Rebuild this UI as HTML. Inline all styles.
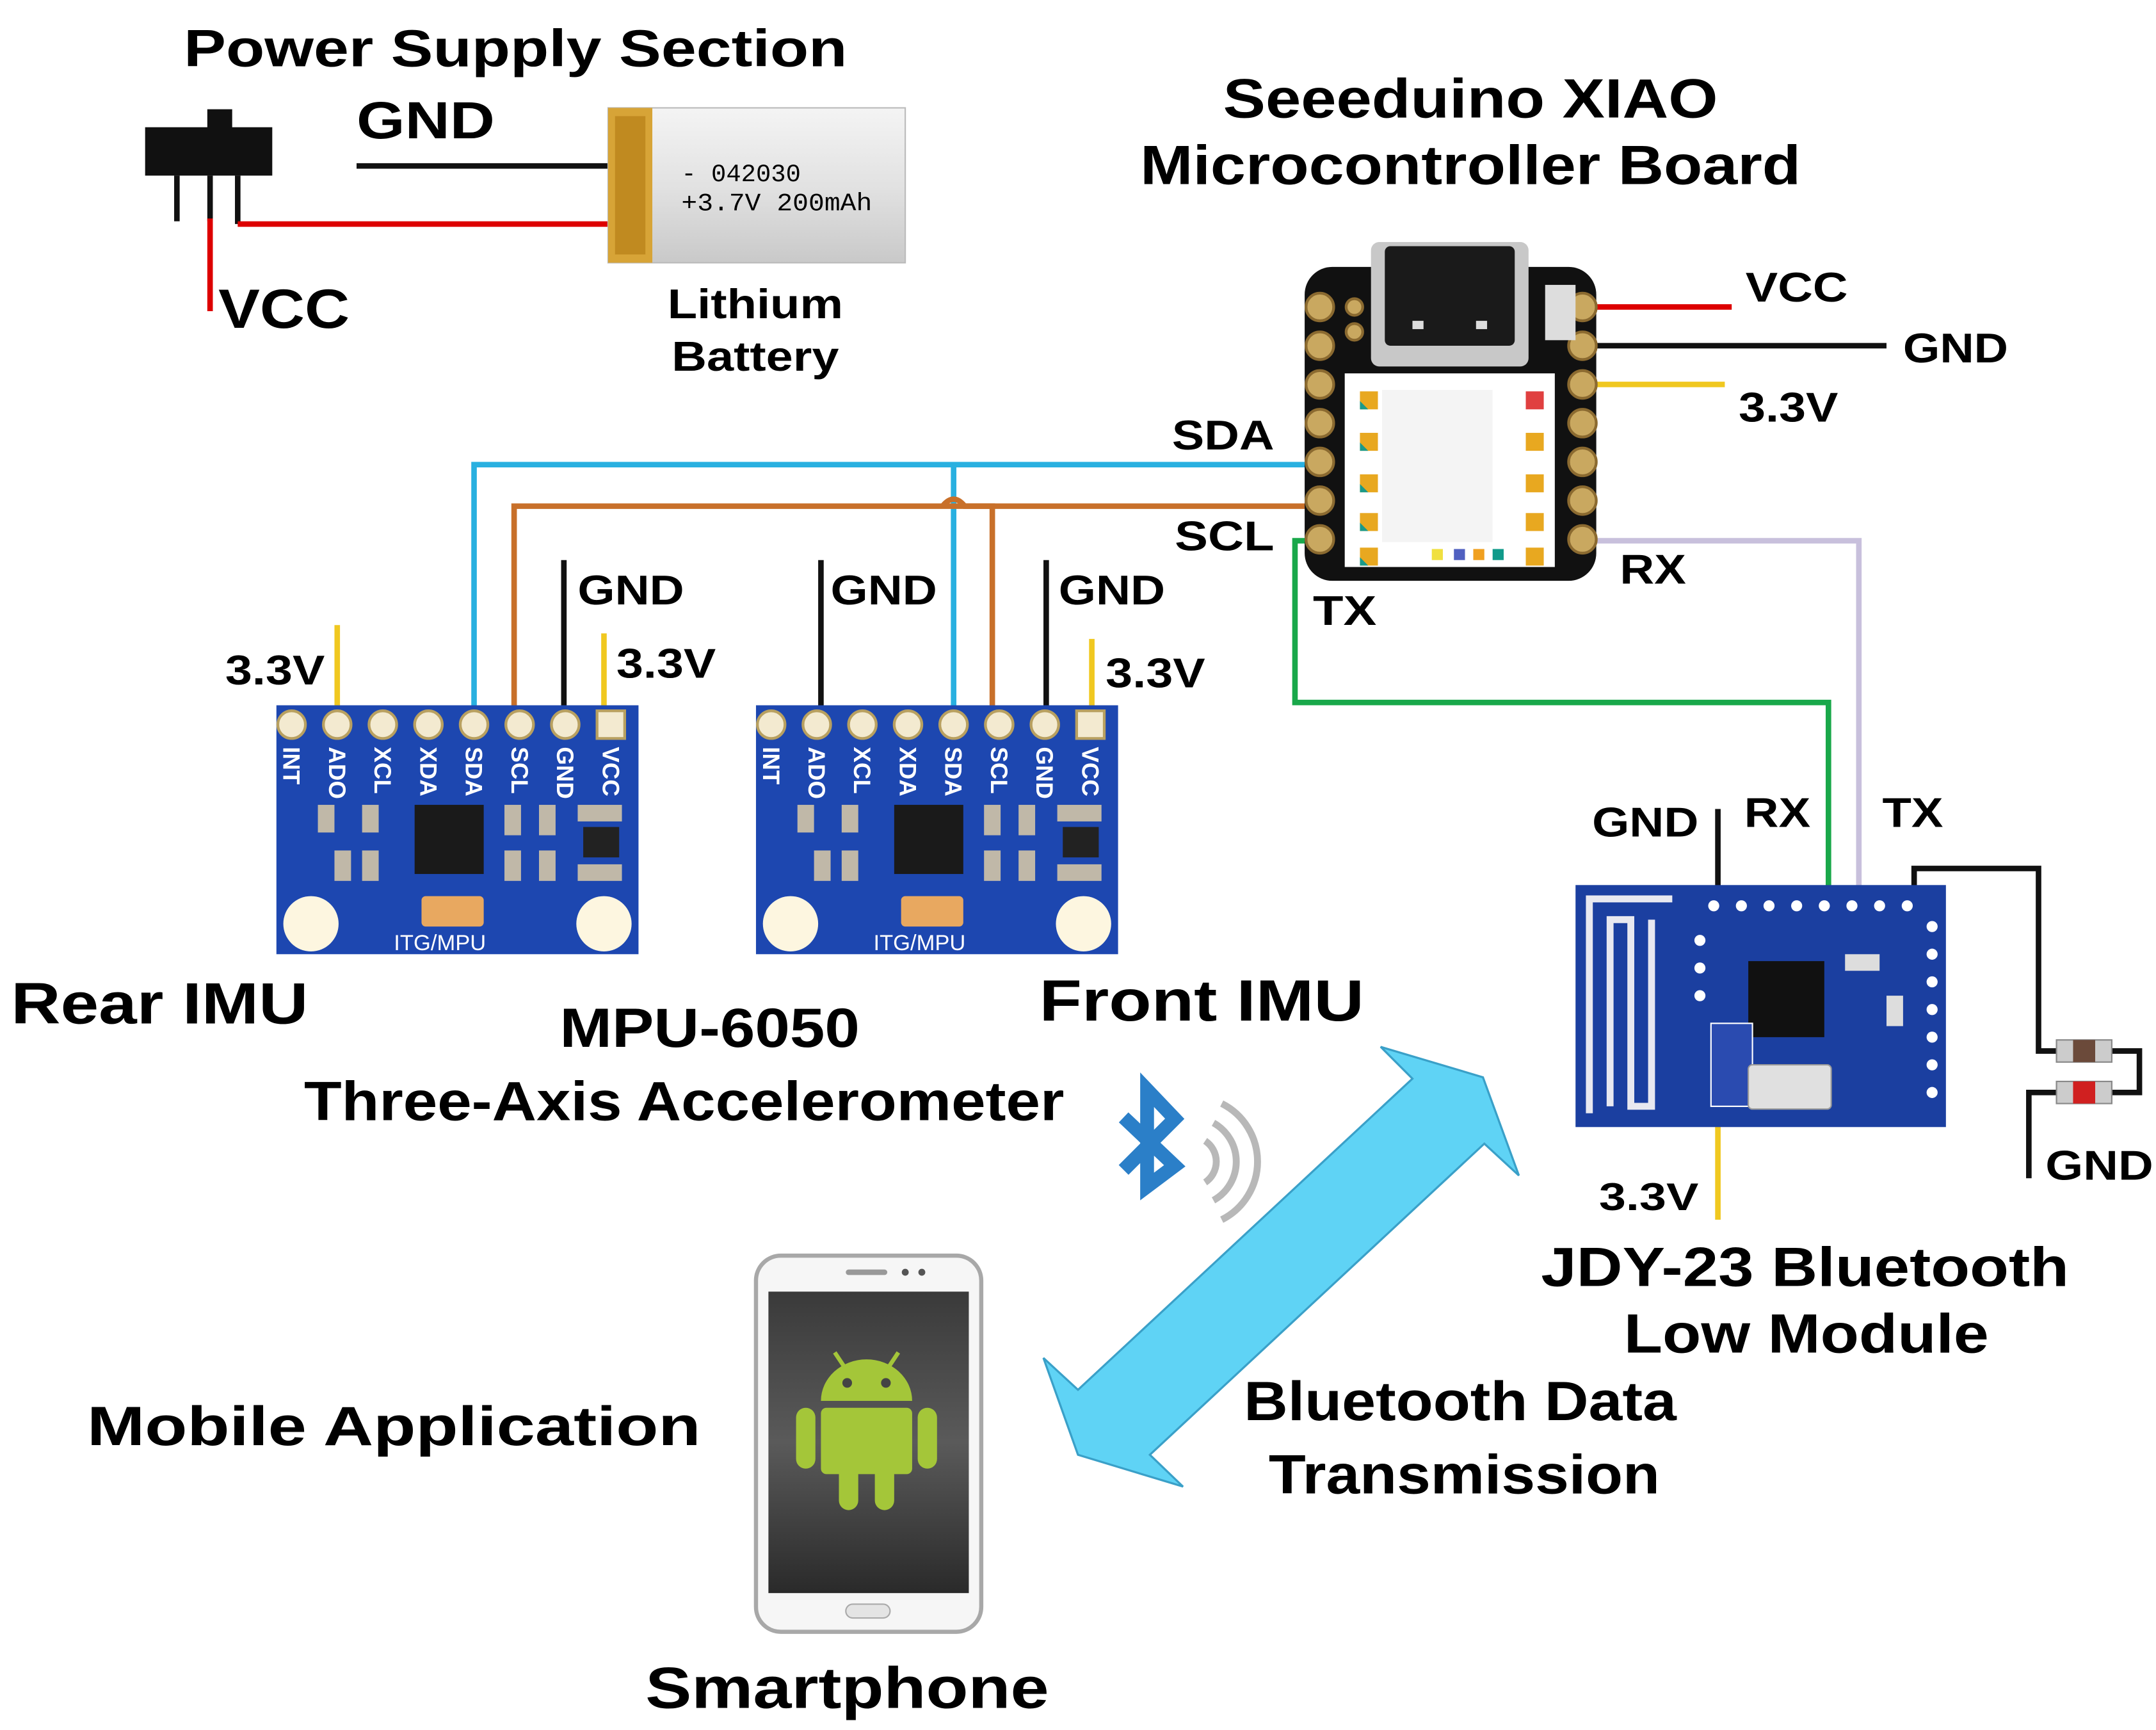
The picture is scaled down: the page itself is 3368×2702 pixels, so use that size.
<!DOCTYPE html>
<html><head><meta charset="utf-8"><style>html,body{margin:0;padding:0;background:#fff}svg{display:block}text{font-family:"Liberation Sans",Arial,sans-serif;font-weight:bold;fill:#000}</style></head><body>
<svg width="3368" height="2702" viewBox="0 0 1560 1251" preserveAspectRatio="none" xmlns="http://www.w3.org/2000/svg">
<defs>
<linearGradient id="bat" x1="0" y1="0" x2="0" y2="1"><stop offset="0" stop-color="#f4f4f4"/><stop offset="0.5" stop-color="#e2e2e2"/><stop offset="1" stop-color="#c9c9c9"/></linearGradient>
<linearGradient id="scr" x1="0" y1="0" x2="0" y2="1"><stop offset="0" stop-color="#3a3a3a"/><stop offset="0.5" stop-color="#5a5a5a"/><stop offset="1" stop-color="#2a2a2a"/></linearGradient>
</defs>
<rect width="1560" height="1251" fill="#fff"/>

<!-- Power supply -->
<text x="133" y="48" font-size="38" textLength="480" lengthAdjust="spacingAndGlyphs">Power Supply Section</text>
<text x="258" y="100" font-size="38" textLength="100" lengthAdjust="spacingAndGlyphs">GND</text>
<text x="158" y="237" font-size="40" textLength="95" lengthAdjust="spacingAndGlyphs">VCC</text>
<rect x="150" y="79" width="18" height="14" fill="#111"/>
<rect x="105" y="92" width="92" height="35" fill="#111"/>
<line x1="128" y1="127" x2="128" y2="160" stroke="#111" stroke-width="4"/>
<line x1="152" y1="127" x2="152" y2="160" stroke="#111" stroke-width="4"/>
<line x1="152" y1="158" x2="152" y2="225" stroke="#d00" stroke-width="4"/>
<line x1="172" y1="127" x2="172" y2="162" stroke="#111" stroke-width="4"/>
<line x1="172" y1="162" x2="470" y2="162" stroke="#d00" stroke-width="4"/>
<line x1="258" y1="120" x2="470" y2="120" stroke="#111" stroke-width="4"/>
<rect x="440" y="78" width="215" height="112" fill="url(#bat)" stroke="#bbb"/>
<rect x="440" y="78" width="32" height="112" fill="#d7a437"/>
<rect x="445" y="84" width="22" height="100" fill="#c08a20"/>
<text x="493" y="131" font-size="18" style="font-family:'Liberation Mono',monospace;font-weight:normal" fill="#222">- 042030</text>
<text x="493" y="152" font-size="18" style="font-family:'Liberation Mono',monospace;font-weight:normal" fill="#222" textLength="138" lengthAdjust="spacingAndGlyphs">+3.7V 200mAh</text>
<text x="483" y="230" font-size="30" textLength="127" lengthAdjust="spacingAndGlyphs">Lithium</text>
<text x="486" y="268" font-size="30" textLength="121" lengthAdjust="spacingAndGlyphs">Battery</text>

<!-- XIAO title -->
<text x="885" y="85" font-size="40" textLength="358" lengthAdjust="spacingAndGlyphs">Seeeduino XIAO</text>
<text x="825" y="133" font-size="40" textLength="478" lengthAdjust="spacingAndGlyphs">Microcontroller Board</text>

<!-- wires -->
<polyline points="960,336 343,336 343,515" fill="none" stroke="#29b0e0" stroke-width="4"/>
<line x1="690" y1="336" x2="690" y2="515" stroke="#29b0e0" stroke-width="4"/>
<polyline points="960,366 372,366 372,515" fill="none" stroke="#c8702a" stroke-width="4"/>
<path d="M682,366 Q690,356 698,366 L718,366 L718,515" fill="none" stroke="#c8702a" stroke-width="4"/>
<polyline points="960,391 937,391 937,508 1323,508 1323,650" fill="none" stroke="#19a84a" stroke-width="4"/>
<polyline points="1150,391 1345,391 1345,642" fill="none" stroke="#c8c0dc" stroke-width="4"/>
<line x1="1145" y1="222" x2="1253" y2="222" stroke="#d00" stroke-width="4"/>
<line x1="1145" y1="250" x2="1365" y2="250" stroke="#111" stroke-width="4"/>
<line x1="1145" y1="278" x2="1248" y2="278" stroke="#f0c820" stroke-width="4"/>

<!-- XIAO board -->
<rect x="944" y="193" width="211" height="227" rx="20" fill="#111"/>
<rect x="992" y="175" width="114" height="90" rx="6" fill="#c8c8c8"/>
<rect x="1002" y="178" width="94" height="72" rx="4" fill="#1a1a1a"/>
<rect x="1022" y="232" width="8" height="6" fill="#ddd"/><rect x="1068" y="232" width="8" height="6" fill="#ddd"/>
<g fill="#c9a860" stroke="#8b6a30" stroke-width="2">
<circle cx="955" cy="222" r="10"/><circle cx="955" cy="250" r="10"/><circle cx="955" cy="278" r="10"/><circle cx="955" cy="306" r="10"/><circle cx="955" cy="334" r="10"/><circle cx="955" cy="362" r="10"/><circle cx="955" cy="390" r="10"/>
<circle cx="1145" cy="222" r="10"/><circle cx="1145" cy="250" r="10"/><circle cx="1145" cy="278" r="10"/><circle cx="1145" cy="306" r="10"/><circle cx="1145" cy="334" r="10"/><circle cx="1145" cy="362" r="10"/><circle cx="1145" cy="390" r="10"/>
<circle cx="980" cy="222" r="6"/><circle cx="980" cy="240" r="6"/>
</g>
<rect x="1118" y="206" width="22" height="40" fill="#ddd"/>
<rect x="973" y="270" width="152" height="140" fill="#fff"/>
<rect x="1000" y="282" width="80" height="110" fill="#f4f4f4"/>
<g>
<rect x="984" y="283" width="13" height="13" fill="#e8a820"/><rect x="984" y="313" width="13" height="13" fill="#e8a820"/><rect x="984" y="343" width="13" height="13" fill="#e8a820"/><rect x="984" y="371" width="13" height="13" fill="#e8a820"/><rect x="984" y="396" width="13" height="13" fill="#e8a820"/>
<polygon points="984,290 990,296 984,296" fill="#1a9a8a"/><polygon points="984,320 990,326 984,326" fill="#1a9a8a"/><polygon points="984,350 990,356 984,356" fill="#1a9a8a"/><polygon points="984,378 990,384 984,384" fill="#1a9a8a"/><polygon points="984,403 990,409 984,409" fill="#1a9a8a"/>
<rect x="1104" y="283" width="13" height="13" fill="#e04040"/>
<rect x="1104" y="313" width="13" height="13" fill="#e8a820"/><rect x="1104" y="343" width="13" height="13" fill="#e8a820"/><rect x="1104" y="371" width="13" height="13" fill="#e8a820"/><rect x="1104" y="396" width="13" height="13" fill="#e8a820"/>
<rect x="1036" y="397" width="8" height="8" fill="#f0e040"/><rect x="1052" y="397" width="8" height="8" fill="#5060c0"/><rect x="1066" y="397" width="8" height="8" fill="#f0a020"/><rect x="1080" y="397" width="8" height="8" fill="#109a8a"/>
</g>
<text x="1263" y="218" font-size="30" textLength="74" lengthAdjust="spacingAndGlyphs">VCC</text>
<text x="1377" y="262" font-size="30" textLength="76" lengthAdjust="spacingAndGlyphs">GND</text>
<text x="1258" y="305" font-size="30" textLength="72" lengthAdjust="spacingAndGlyphs">3.3V</text>
<text x="848" y="325" font-size="30" textLength="74" lengthAdjust="spacingAndGlyphs">SDA</text>
<text x="850" y="398" font-size="30" textLength="72" lengthAdjust="spacingAndGlyphs">SCL</text>
<text x="950" y="452" font-size="30" textLength="46" lengthAdjust="spacingAndGlyphs">TX</text>
<text x="1172" y="422" font-size="30" textLength="48" lengthAdjust="spacingAndGlyphs">RX</text>

<!-- IMU wires -->
<line x1="408" y1="405" x2="408" y2="515" stroke="#111" stroke-width="4"/>
<line x1="244" y1="452" x2="244" y2="515" stroke="#f0c820" stroke-width="4"/>
<line x1="437" y1="458" x2="437" y2="515" stroke="#f0c820" stroke-width="4"/>
<line x1="594" y1="405" x2="594" y2="515" stroke="#111" stroke-width="4"/>
<line x1="757" y1="405" x2="757" y2="515" stroke="#111" stroke-width="4"/>
<line x1="790" y1="462" x2="790" y2="515" stroke="#f0c820" stroke-width="4"/>
<text x="418" y="437" font-size="30" textLength="77" lengthAdjust="spacingAndGlyphs">GND</text>
<text x="163" y="495" font-size="30" textLength="72" lengthAdjust="spacingAndGlyphs">3.3V</text>
<text x="446" y="490" font-size="30" textLength="72" lengthAdjust="spacingAndGlyphs">3.3V</text>
<text x="601" y="437" font-size="30" textLength="77" lengthAdjust="spacingAndGlyphs">GND</text>
<text x="766" y="437" font-size="30" textLength="77" lengthAdjust="spacingAndGlyphs">GND</text>
<text x="800" y="497" font-size="30" textLength="72" lengthAdjust="spacingAndGlyphs">3.3V</text>

<!-- IMU boards -->
<g transform="translate(200,510)">
<rect width="262" height="180" fill="#1d47b0"/>
<g fill="#f3ead0" stroke="#b8a060" stroke-width="2"><circle cx="11" cy="14" r="10"/><circle cx="44" cy="14" r="10"/><circle cx="77" cy="14" r="10"/><circle cx="110" cy="14" r="10"/><circle cx="143" cy="14" r="10"/><circle cx="176" cy="14" r="10"/><circle cx="209" cy="14" r="10"/><rect x="232" y="4" width="20" height="20"/></g>
<g font-size="17">
<text transform="translate(5,30) rotate(90)" style="fill:#fff">INT</text><text transform="translate(38,30) rotate(90)" style="fill:#fff">ADO</text><text transform="translate(71,30) rotate(90)" style="fill:#fff">XCL</text><text transform="translate(104,30) rotate(90)" style="fill:#fff">XDA</text><text transform="translate(137,30) rotate(90)" style="fill:#fff">SDA</text><text transform="translate(170,30) rotate(90)" style="fill:#fff">SCL</text><text transform="translate(203,30) rotate(90)" style="fill:#fff">GND</text><text transform="translate(236,30) rotate(90)" style="fill:#fff">VCC</text>
</g>
<rect x="100" y="72" width="50" height="50" fill="#1a1a1a"/>
<g fill="#c0b8a8"><rect x="30" y="72" width="12" height="20"/><rect x="62" y="72" width="12" height="20"/><rect x="62" y="105" width="12" height="22"/><rect x="42" y="105" width="12" height="22"/><rect x="165" y="72" width="12" height="22"/><rect x="190" y="72" width="12" height="22"/><rect x="165" y="105" width="12" height="22"/><rect x="190" y="105" width="12" height="22"/><rect x="218" y="72" width="32" height="12"/><rect x="218" y="115" width="32" height="12"/></g>
<rect x="222" y="88" width="26" height="22" fill="#222"/>
<rect x="105" y="138" width="45" height="22" rx="3" fill="#e8a860"/>
<circle cx="25" cy="158" r="20" fill="#fdf6e0"/><circle cx="237" cy="158" r="20" fill="#fdf6e0"/>
<text x="85" y="177" font-size="16" style="fill:#fff;font-weight:normal">ITG/MPU</text>
</g>
<g transform="translate(547,510)">
<rect width="262" height="180" fill="#1d47b0"/>
<g fill="#f3ead0" stroke="#b8a060" stroke-width="2"><circle cx="11" cy="14" r="10"/><circle cx="44" cy="14" r="10"/><circle cx="77" cy="14" r="10"/><circle cx="110" cy="14" r="10"/><circle cx="143" cy="14" r="10"/><circle cx="176" cy="14" r="10"/><circle cx="209" cy="14" r="10"/><rect x="232" y="4" width="20" height="20"/></g>
<g font-size="17">
<text transform="translate(5,30) rotate(90)" style="fill:#fff">INT</text><text transform="translate(38,30) rotate(90)" style="fill:#fff">ADO</text><text transform="translate(71,30) rotate(90)" style="fill:#fff">XCL</text><text transform="translate(104,30) rotate(90)" style="fill:#fff">XDA</text><text transform="translate(137,30) rotate(90)" style="fill:#fff">SDA</text><text transform="translate(170,30) rotate(90)" style="fill:#fff">SCL</text><text transform="translate(203,30) rotate(90)" style="fill:#fff">GND</text><text transform="translate(236,30) rotate(90)" style="fill:#fff">VCC</text>
</g>
<rect x="100" y="72" width="50" height="50" fill="#1a1a1a"/>
<g fill="#c0b8a8"><rect x="30" y="72" width="12" height="20"/><rect x="62" y="72" width="12" height="20"/><rect x="62" y="105" width="12" height="22"/><rect x="42" y="105" width="12" height="22"/><rect x="165" y="72" width="12" height="22"/><rect x="190" y="72" width="12" height="22"/><rect x="165" y="105" width="12" height="22"/><rect x="190" y="105" width="12" height="22"/><rect x="218" y="72" width="32" height="12"/><rect x="218" y="115" width="32" height="12"/></g>
<rect x="222" y="88" width="26" height="22" fill="#222"/>
<rect x="105" y="138" width="45" height="22" rx="3" fill="#e8a860"/>
<circle cx="25" cy="158" r="20" fill="#fdf6e0"/><circle cx="237" cy="158" r="20" fill="#fdf6e0"/>
<text x="85" y="177" font-size="16" style="fill:#fff;font-weight:normal">ITG/MPU</text>
</g>

<text x="8" y="740" font-size="42" textLength="215" lengthAdjust="spacingAndGlyphs">Rear IMU</text>
<text x="405" y="757" font-size="40" textLength="217" lengthAdjust="spacingAndGlyphs">MPU-6050</text>
<text x="220" y="810" font-size="40" textLength="550" lengthAdjust="spacingAndGlyphs">Three-Axis Accelerometer</text>
<text x="752" y="738" font-size="42" textLength="235" lengthAdjust="spacingAndGlyphs">Front IMU</text>

<!-- JDY-23 -->
<line x1="1243" y1="585" x2="1243" y2="650" stroke="#111" stroke-width="4"/>
<line x1="1243" y1="810" x2="1243" y2="882" stroke="#f0c820" stroke-width="4"/>
<polyline points="1385,645 1385,628 1475,628 1475,760 1488,760" fill="none" stroke="#111" stroke-width="4"/>
<polyline points="1528,760 1548,760 1548,790 1528,790" fill="none" stroke="#111" stroke-width="4"/>
<polyline points="1488,790 1468,790 1468,852" fill="none" stroke="#111" stroke-width="4"/>
<rect x="1488" y="752" width="40" height="16" fill="#ccc" stroke="#888"/><rect x="1500" y="752" width="16" height="16" fill="#6b4a3a"/>
<rect x="1488" y="782" width="40" height="16" fill="#ccc" stroke="#888"/><rect x="1500" y="782" width="16" height="16" fill="#d02020"/>
<rect x="1140" y="640" width="268" height="175" fill="#1b3fa0"/>
<g fill="none" stroke="#e8e8f0" stroke-width="5"><polyline points="1150,805 1150,650 1210,650"/><polyline points="1165,800 1165,665 1180,665 1180,800 1195,800 1195,665"/></g>
<g fill="#fff"><circle cx="1240" cy="655" r="4"/><circle cx="1260" cy="655" r="4"/><circle cx="1280" cy="655" r="4"/><circle cx="1300" cy="655" r="4"/><circle cx="1320" cy="655" r="4"/><circle cx="1340" cy="655" r="4"/><circle cx="1360" cy="655" r="4"/><circle cx="1380" cy="655" r="4"/><circle cx="1398" cy="670" r="4"/><circle cx="1398" cy="690" r="4"/><circle cx="1398" cy="710" r="4"/><circle cx="1398" cy="730" r="4"/><circle cx="1398" cy="750" r="4"/><circle cx="1398" cy="770" r="4"/><circle cx="1398" cy="790" r="4"/><circle cx="1230" cy="680" r="4"/><circle cx="1230" cy="700" r="4"/><circle cx="1230" cy="720" r="4"/></g>
<rect x="1265" y="695" width="55" height="55" fill="#111"/>
<rect x="1335" y="690" width="25" height="12" fill="#ddd"/><rect x="1365" y="720" width="12" height="22" fill="#ddd"/><rect x="1238" y="740" width="30" height="60" fill="#2a4bb0" stroke="#fff"/>
<rect x="1265" y="770" width="60" height="32" rx="3" fill="#e0e0e0" stroke="#999"/>
<text x="1152" y="605" font-size="30" textLength="77" lengthAdjust="spacingAndGlyphs">GND</text>
<text x="1262" y="598" font-size="30" textLength="48" lengthAdjust="spacingAndGlyphs">RX</text>
<text x="1362" y="598" font-size="30" textLength="44" lengthAdjust="spacingAndGlyphs">TX</text>
<text x="1480" y="853" font-size="30" textLength="78" lengthAdjust="spacingAndGlyphs">GND</text>
<text x="1157" y="875" font-size="28" textLength="72" lengthAdjust="spacingAndGlyphs">3.3V</text>
<text x="1115" y="930" font-size="40" textLength="382" lengthAdjust="spacingAndGlyphs">JDY-23 Bluetooth</text>
<text x="1175" y="978" font-size="40" textLength="264" lengthAdjust="spacingAndGlyphs">Low Module</text>

<!-- Bluetooth & arrow -->
<polygon points="999,757 1073,779 1099,850 1074,827 832,1052 856,1075 780,1052 755,982 780,1005 1022,780" fill="#5fd3f5" stroke="#3aa0c8" stroke-width="1.5"/>
<polyline points="813,808 850,843 830,858 830,788 850,809 813,846" fill="none" stroke="#2b7fc8" stroke-width="10" stroke-linejoin="miter"/>
<g fill="none" stroke="#b8b8b8" stroke-width="5"><path d="M872,825 A18,18 0 0 1 872,855"/><path d="M878,812 A32,32 0 0 1 878,868"/><path d="M884,798 A47,47 0 0 1 884,882"/></g>
<text x="900" y="1027" font-size="40" textLength="313" lengthAdjust="spacingAndGlyphs">Bluetooth Data</text>
<text x="918" y="1080" font-size="40" textLength="283" lengthAdjust="spacingAndGlyphs">Transmission</text>

<!-- Phone -->
<text x="63" y="1045" font-size="40" textLength="444" lengthAdjust="spacingAndGlyphs">Mobile Application</text>
<rect x="547" y="908" width="163" height="272" rx="18" fill="#f6f6f6" stroke="#a8a8a8" stroke-width="3"/>
<rect x="556" y="934" width="145" height="218" fill="url(#scr)"/>
<rect x="612" y="918" width="30" height="4" rx="2" fill="#999"/><circle cx="655" cy="920" r="2.5" fill="#555"/><circle cx="667" cy="920" r="2.5" fill="#555"/>
<rect x="612" y="1160" width="32" height="10" rx="5" fill="#e4e4e4" stroke="#aaa"/>
<g fill="#a4c639">
<path d="M594,1013 A33,30 0 0 1 660,1013 Z"/>
<rect x="594" y="1018" width="66" height="48" rx="4"/>
<rect x="576" y="1018" width="14" height="44" rx="7"/><rect x="664" y="1018" width="14" height="44" rx="7"/>
<rect x="607" y="1055" width="14" height="37" rx="7"/><rect x="633" y="1055" width="14" height="37" rx="7"/>
<line x1="604" y1="978" x2="612" y2="990" stroke="#a4c639" stroke-width="3"/><line x1="650" y1="978" x2="642" y2="990" stroke="#a4c639" stroke-width="3"/>
</g>
<circle cx="613" cy="1000" r="3.5" fill="#444"/><circle cx="641" cy="1000" r="3.5" fill="#444"/>
<text x="467" y="1235" font-size="42" textLength="292" lengthAdjust="spacingAndGlyphs">Smartphone</text>
</svg>
</body></html>
